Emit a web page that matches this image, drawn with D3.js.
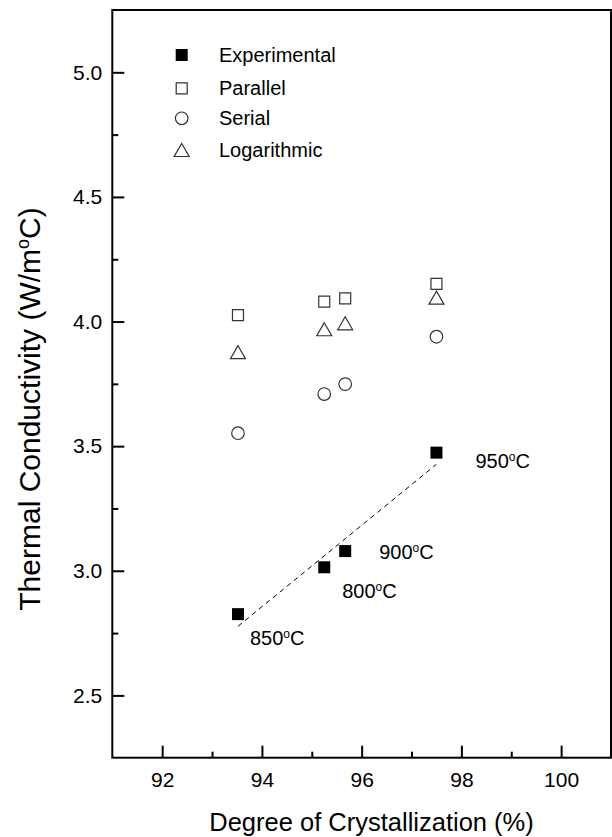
<!DOCTYPE html>
<html lang="en">
<head>
<meta charset="utf-8">
<title>Thermal Conductivity vs Degree of Crystallization</title>
<style>
    body { margin: 0; background: #fff; }
    svg text { font-family: Arial, "Liberation Sans", sans-serif; fill: #000; }
</style>
</head>
<body>
<script src="https://d3js.org/d3.v7.min.js"></script>
<script>
// data
const crystallization = [93.52, 95.25, 95.67, 97.5];
const experimental = [2.826, 3.014, 3.079, 3.474];
const parallel = [4.026, 4.080, 4.093, 4.151];
const serial = [3.552, 3.709, 3.749, 3.939];
const logarithmic = [3.877, 3.969, 3.993, 4.096];
const tempLabels = ["850", "800", "900", "950"];
const legendNames = ["Experimental", "Parallel", "Serial", "Logarithmic"];
const xTicks = [92, 94, 96, 98, 100];
const yTicks = [2.5, 3.0, 3.5, 4.0, 4.5, 5.0];

const width = 612, height = 837;
const margin = { left: 112.3, right: 1, top: 10, bottom: 79.3 };

const svg = d3.select("body").append("svg")
    .attr("width", width)
    .attr("height", height);

const x = d3.scaleLinear().domain([91, 101]).range([margin.left, width - margin.right]);
const y = d3.scaleLinear().domain([2.25, 5.25]).range([height - margin.bottom, margin.top]);

// axes (ticks inward)
const xMinor = d3.range(93, 101, 2);
const yMinor = d3.range(2.75, 5.25, 0.5);

svg.append("g")
    .attr("transform", `translate(0,${y.range()[0]})`)
    .call(d3.axisBottom(x).tickValues(xMinor).tickSize(-6).tickFormat(""))
    .call(g => g.select(".domain").remove())
    .call(g => g.selectAll("line").attr("stroke-width", 2));

svg.append("g")
    .attr("transform", `translate(0,${y.range()[0]})`)
    .call(d3.axisBottom(x).tickValues(xTicks).tickSize(-12).tickPadding(14.5).tickFormat(d3.format("d")))
    .call(g => g.select(".domain").remove())
    .call(g => g.selectAll("line").attr("stroke-width", 2))
    .call(g => g.selectAll("text").attr("font-size", 21));

svg.append("g")
    .attr("transform", `translate(${x.range()[0]},0)`)
    .call(d3.axisLeft(y).tickValues(yMinor).tickSize(-6).tickFormat(""))
    .call(g => g.select(".domain").remove())
    .call(g => g.selectAll("line").attr("stroke-width", 2));

svg.append("g")
    .attr("transform", `translate(${x.range()[0]},0)`)
    .call(d3.axisLeft(y).tickValues(yTicks).tickSize(-12).tickPadding(10).tickFormat(d3.format(".1f")))
    .call(g => g.select(".domain").remove())
    .call(g => g.selectAll("line").attr("stroke-width", 2))
    .call(g => g.selectAll("text").attr("font-size", 21));

// frame
svg.append("rect")
    .attr("x", x.range()[0])
    .attr("y", y.range()[1])
    .attr("width", x.range()[1] - x.range()[0])
    .attr("height", y.range()[0] - y.range()[1])
    .attr("fill", "none")
    .attr("stroke", "#000")
    .attr("stroke-width", 2);

// axis titles
svg.append("text")
    .attr("x", 371.5)
    .attr("y", 831)
    .attr("text-anchor", "middle")
    .attr("font-size", 25.5)
    .text("Degree of Crystallization (%)");

const yTitle = svg.append("text")
    .attr("transform", "translate(40,409) rotate(-90)")
    .attr("text-anchor", "middle")
    .attr("font-size", 30);
yTitle.append("tspan").text("Thermal Conductivity (W/m");
yTitle.append("tspan").attr("font-size", 18).attr("dy", -11).text("o");
yTitle.append("tspan").attr("dy", 11).text("C)");

// linear fit of experimental points
const mx = d3.mean(crystallization), my = d3.mean(experimental);
const slope = d3.sum(crystallization, (d, i) => (d - mx) * (experimental[i] - my)) /
    d3.sum(crystallization, d => (d - mx) * (d - mx));
const icpt = my - slope * mx;
const xe = d3.extent(crystallization);

svg.append("line")
    .attr("x1", x(xe[0])).attr("y1", y(icpt + slope * xe[0]))
    .attr("x2", x(xe[1])).attr("y2", y(icpt + slope * xe[1]))
    .attr("stroke", "#000")
    .attr("stroke-width", 1)
    .attr("stroke-dasharray", "5,4");

// symbols
const squarePath = s => `M${-s / 2},${-s / 2}h${s}v${s}h${-s}Z`;
const triPath = (w, h) => `M0,${-h / 2}L${w / 2},${h / 2}L${-w / 2},${h / 2}Z`;

const markers = [
    { values: experimental, draw: g => g.append("path").attr("d", squarePath(12)).attr("fill", "#000") },
    { values: parallel, draw: g => g.append("path").attr("d", squarePath(11)).attr("fill", "none").attr("stroke", "#333").attr("stroke-width", 1.2) },
    { values: serial, draw: g => g.append("circle").attr("r", 6.3).attr("fill", "none").attr("stroke", "#333").attr("stroke-width", 1.2) },
    { values: logarithmic, draw: g => g.append("path").attr("d", triPath(15, 13)).attr("fill", "none").attr("stroke", "#333").attr("stroke-width", 1.2) }
];

markers.forEach(m => {
    svg.append("g")
        .selectAll("g")
        .data(m.values)
        .join("g")
        .attr("transform", (d, i) => `translate(${x(crystallization[i])},${y(d)})`)
        .each(function () { m.draw(d3.select(this)); });
});

// temperature annotations
const labelOffsets = [[12, 31], [18, 31], [34, 8], [39, 15]];
tempLabels.forEach((t, i) => {
    const txt = svg.append("text")
        .attr("x", x(crystallization[i]) + labelOffsets[i][0])
        .attr("y", y(experimental[i]) + labelOffsets[i][1])
        .attr("font-size", 20);
    txt.append("tspan").text(t);
    txt.append("tspan").attr("font-size", 12).attr("dy", -7).text("o");
    txt.append("tspan").attr("dy", 7).text("C");
});

// legend
const legend = svg.append("g");
const legendY = [55, 88.3, 118.3, 150];
legendNames.forEach((name, i) => {
    const g = legend.append("g").attr("transform", `translate(181.7,${legendY[i]})`);
    markers[i].draw(g);
    legend.append("text")
        .attr("x", 219)
        .attr("y", legendY[i] + 7)
        .attr("font-size", 20)
        .text(name);
});
</script>
</body>
</html>
